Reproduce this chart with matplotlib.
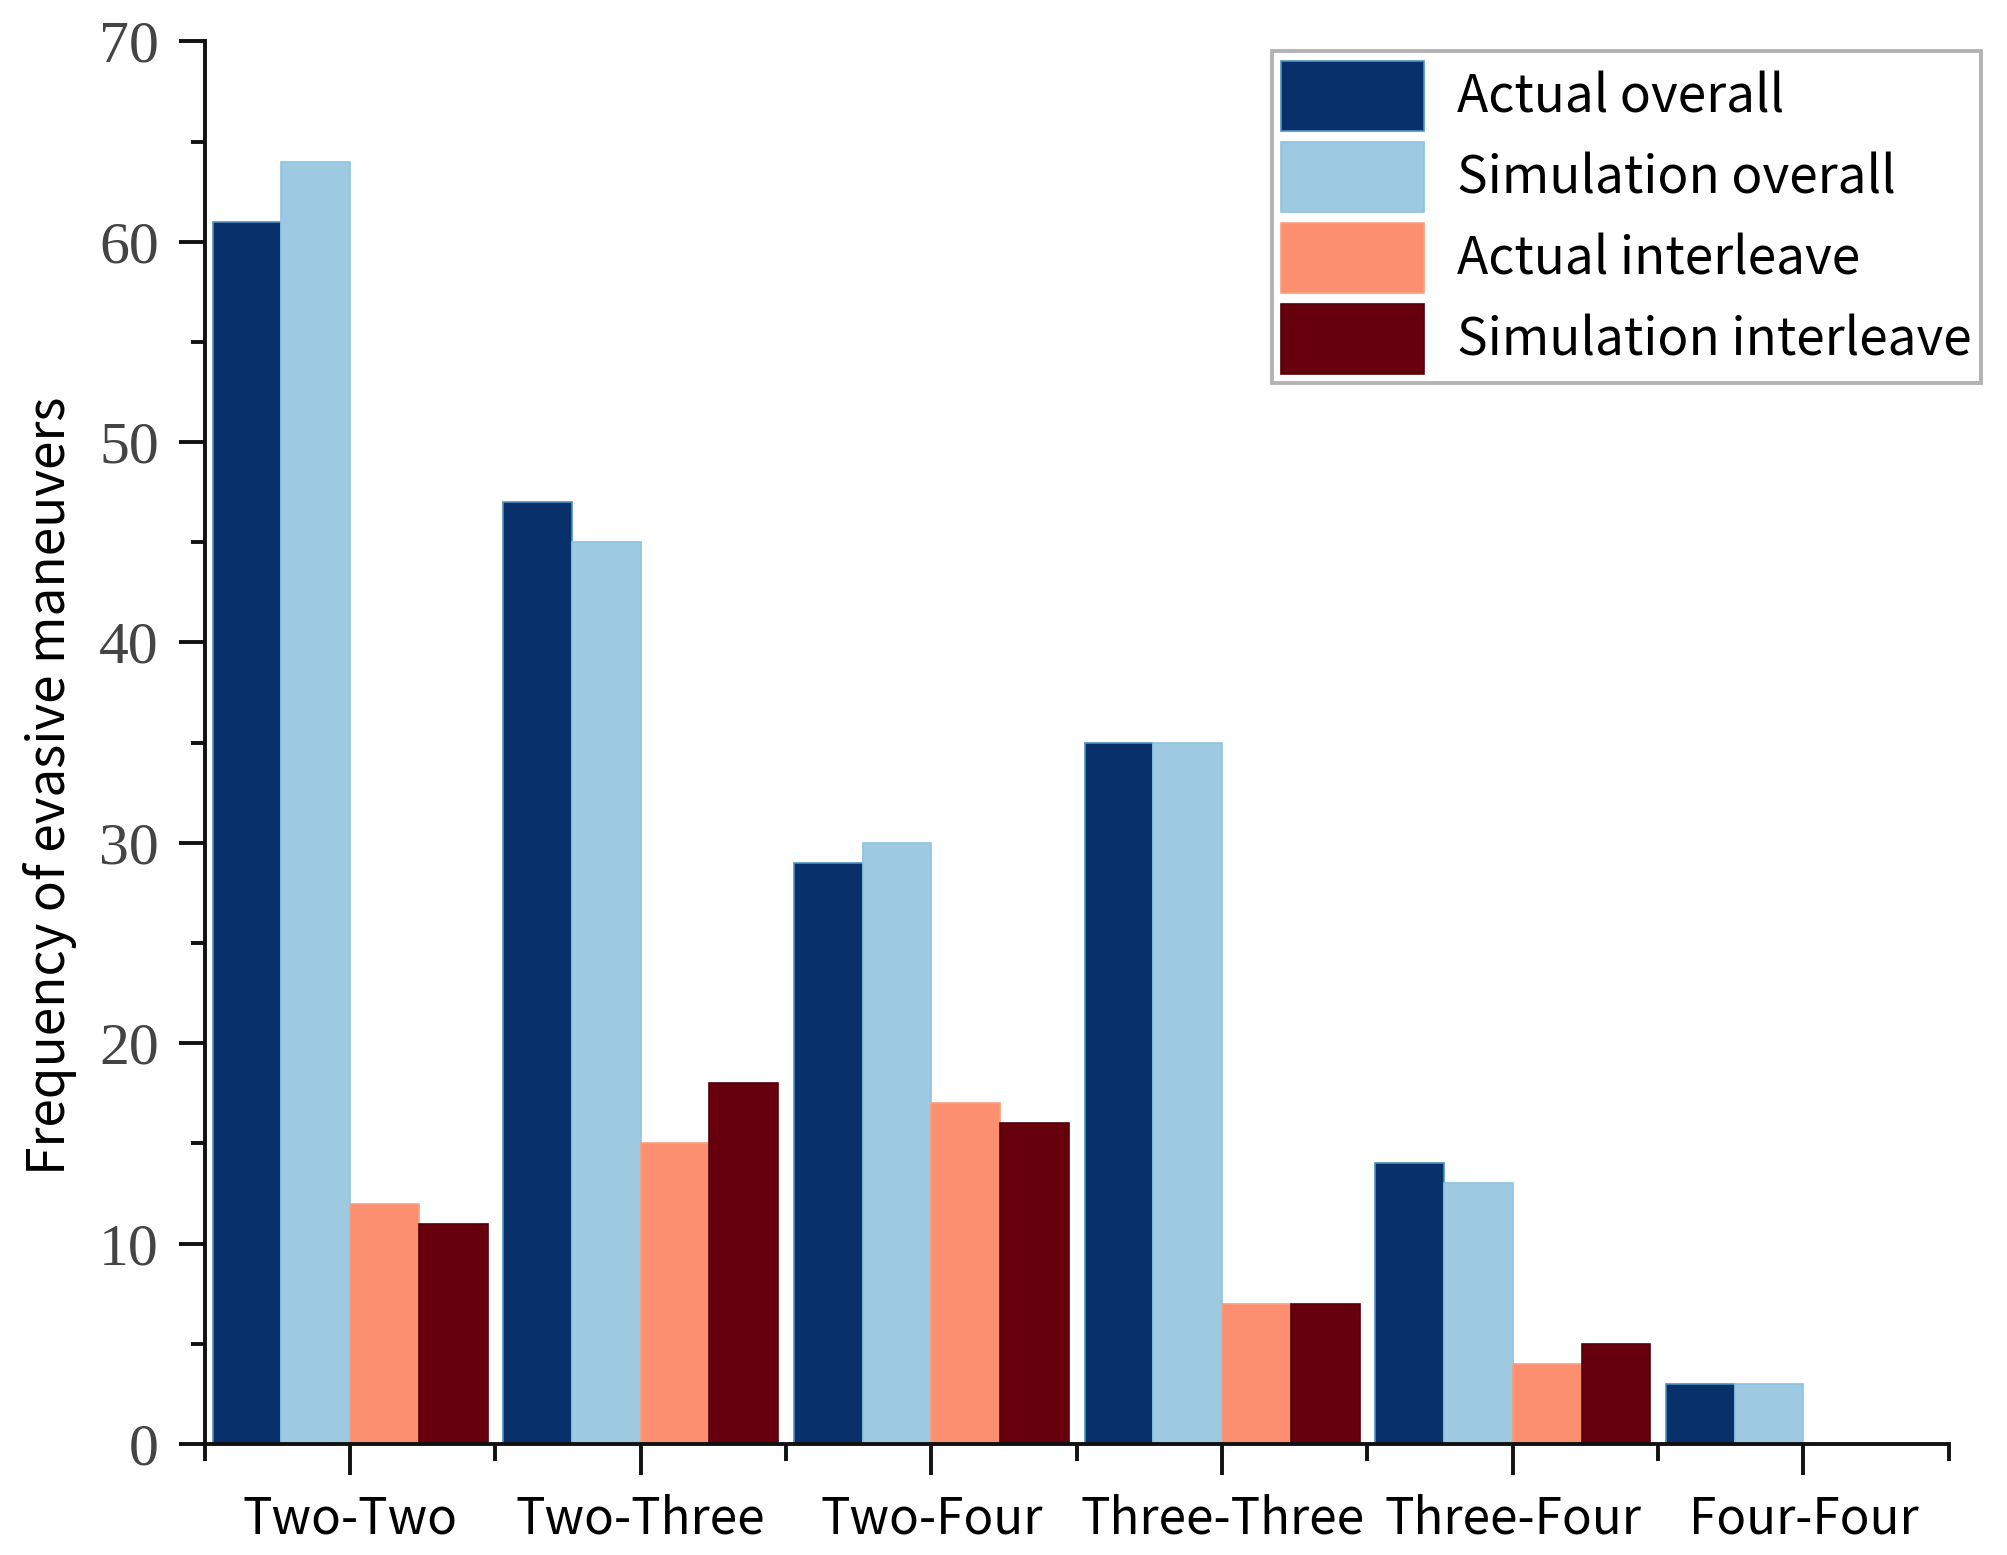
import matplotlib
matplotlib.use("Agg")
import matplotlib.pyplot as plt
import numpy as np
from matplotlib.ticker import MultipleLocator, FixedLocator

categories = ["Two-Two", "Two-Three", "Two-Four", "Three-Three", "Three-Four", "Four-Four"]
actual_overall = [61, 47, 29, 35, 14, 3]
simulation_overall = [64, 45, 30, 35, 13, 3]
actual_interleave = [12, 15, 17, 7, 4, 0]
simulation_interleave = [11, 18, 16, 7, 5, 0]
series_names = ["Actual overall", "Simulation overall", "Actual interleave", "Simulation interleave"]
colors = ["#08306b", "#9ecae1", "#fc8f6f", "#67000d"]
edges = ["#4f8fc0", "#8cc4e4", "#f7a080", "#55000a"]

sans = ["Noto Sans CJK SC", "DejaVu Sans"]
serif = ["Liberation Serif", "DejaVu Serif"]

fig = plt.figure(figsize=(20.07, 15.55), dpi=100)
ax = fig.add_axes([0.102, 0.0714, 0.869, 0.902])

x = np.arange(len(categories))
w = 0.2365
data = [actual_overall, simulation_overall, actual_interleave, simulation_interleave]
for i, (vals, name, c, ec) in enumerate(zip(data, series_names, colors, edges)):
    ax.bar(x + (i - 1.5) * w, vals, width=w, color=c, edgecolor=ec, linewidth=1.2, label=name)

ax.set_xlim(-0.5, len(categories) - 0.5)
ax.set_ylim(0, 70)
ax.spines["top"].set_visible(False)
ax.spines["right"].set_visible(False)
for s in ("left", "bottom"):
    ax.spines[s].set_linewidth(2.8)
    ax.spines[s].set_color("#111111")

ax.yaxis.set_major_locator(MultipleLocator(10))
ax.yaxis.set_minor_locator(MultipleLocator(5))
ax.set_xticks(x)
ax.set_xticklabels(categories, family=sans, fontsize=35.5)
ax.xaxis.set_minor_locator(FixedLocator(np.arange(-0.5, len(categories), 1.0)))

ax.tick_params(axis="y", which="major", direction="out", length=19, width=2.8, pad=14,
               labelsize=43, labelcolor="#444444", color="#111111")
ax.tick_params(axis="y", which="minor", direction="out", length=10, width=2.8, color="#111111")
ax.tick_params(axis="x", which="major", direction="out", length=22, width=2.8, pad=14, color="#111111")
ax.tick_params(axis="x", which="minor", direction="out", length=12, width=2.8, color="#111111")
for lab in ax.get_yticklabels():
    lab.set_family(serif)

ax.set_ylabel("Frequency of evasive maneuvers", family=sans, fontsize=37)
ax.yaxis.set_label_coords(-0.073, 0.469)

leg = ax.legend(loc="upper right", bbox_to_anchor=(0.987, 0.967), bbox_transform=fig.transFigure,
                prop={"family": sans, "size": 37}, frameon=True, fancybox=False,
                handlelength=2.78, handleheight=1.74, labelspacing=0.2, handletextpad=0.65,
                borderpad=0.18, borderaxespad=0)
leg.get_frame().set_edgecolor("#a0a0a0")
leg.get_frame().set_linewidth(2.8)

fig.savefig("out.png", dpi=100)
